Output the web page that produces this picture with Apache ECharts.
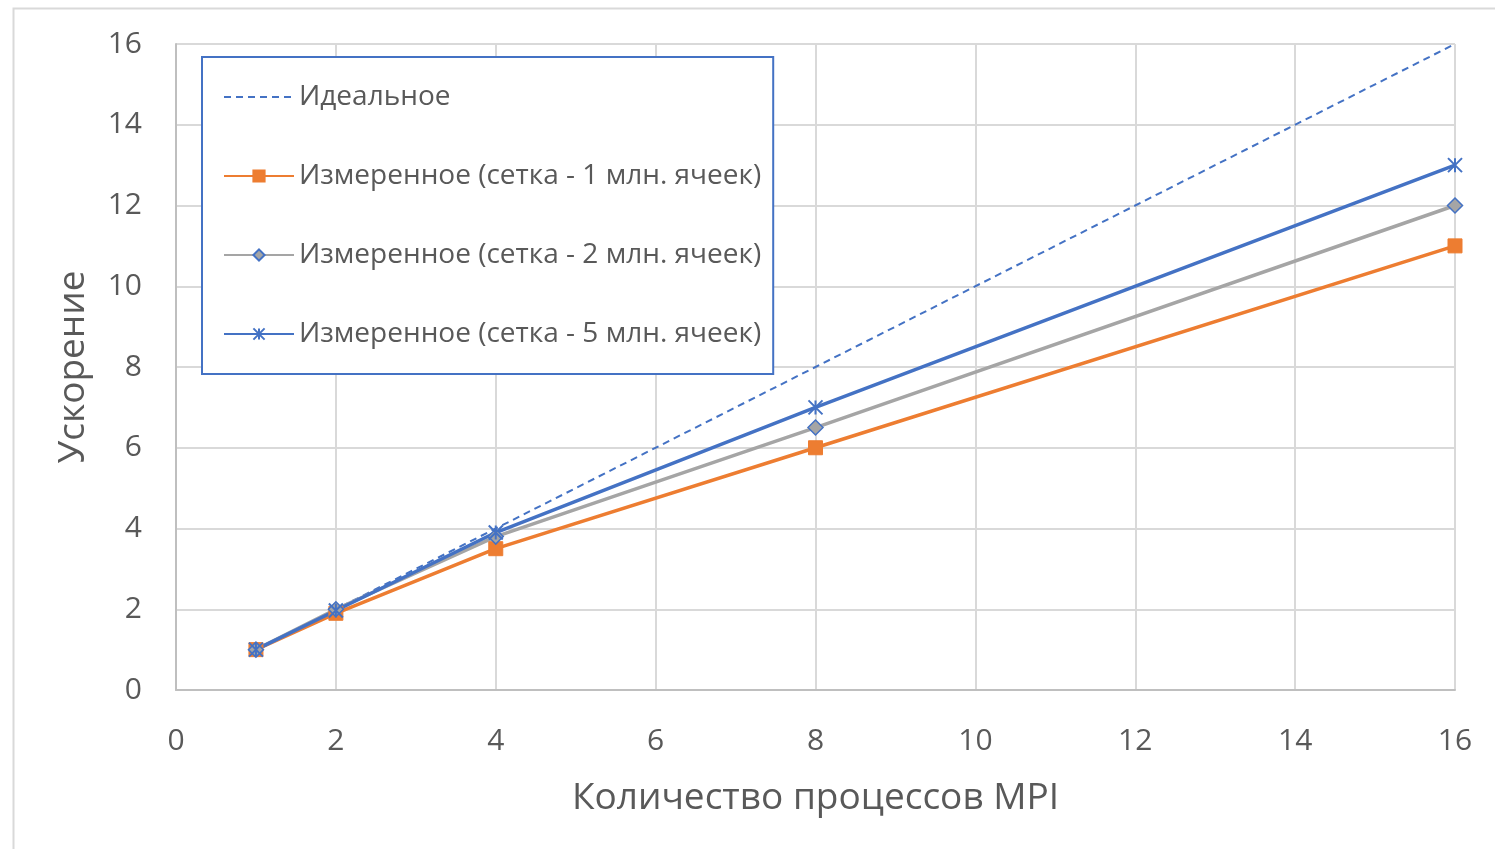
<!DOCTYPE html>
<html>
<head>
<meta charset="utf-8">
<script src="https://cdn.jsdelivr.net/npm/echarts@6/dist/echarts.min.js"></script>
<style>
html,body{margin:0;padding:0;background:#fff;}
#c{width:1495px;height:849px;}
</style>
</head>
<body>
<div id="c"></div>
<script>
// Data
const processes = [1, 2, 4, 8, 16];
const idealValues = [1, 2, 4, 8, 16];
const mesh1Values = [1, 1.9, 3.5, 6, 11];
const mesh2Values = [1, 2, 3.8, 6.5, 12];
const mesh5Values = [1, 1.97, 3.9, 7, 13];
const seriesNames = [
  'Идеальное',
  'Измеренное (сетка - 1 млн. ячеек)',
  'Измеренное (сетка - 2 млн. ячеек)',
  'Измеренное (сетка - 5 млн. ячеек)'
];
const xAxisTitle = 'Количество процессов MPI';
const yAxisTitle = 'Ускорение';

const pairs = (xs, ys) => xs.map((x, i) => [x, ys[i]]);
const FONT = '"Open Sans", "Noto Sans", sans-serif';
const TXT = '#595959';
const BLUE = '#4472C4', ORANGE = '#ED7D31', GRAY = '#A5A5A5';
const STAR = 'path://M0,0L10,10M10,0L0,10M5,0L5,10';

const chart = echarts.init(document.getElementById('c'), null, {renderer: 'canvas'});
chart.setOption({
  animation: false,
  backgroundColor: '#fff',
  textStyle: {fontFamily: FONT},
  graphic: [{
    type: 'rect', left: 11, top: 6, silent: true, z: -10,
    shape: {width: 1500, height: 900},
    style: {fill: 'none', stroke: '#d9d9d9', lineWidth: 2}
  }],
  grid: {left: 176, right: 40, top: 44, bottom: 159, containLabel: false},
  legend: {
    orient: 'vertical', left: 202, top: 57,
    padding: [26, 12, 26, 21],
    itemGap: 51, itemWidth: 70, itemHeight: 14,
    borderColor: BLUE, borderWidth: 2, backgroundColor: '#fff',
    textStyle: {fontFamily: FONT, fontSize: 28, color: TXT},
    data: [
      {name: seriesNames[0], itemStyle: {opacity: 0}},
      seriesNames[1], seriesNames[2], seriesNames[3]
    ]
  },
  xAxis: {
    type: 'value', min: 0, max: 16, interval: 2,
    name: xAxisTitle, nameLocation: 'middle', nameGap: 90,
    nameTextStyle: {fontFamily: FONT, fontSize: 37, color: TXT},
    axisLine: {show: true, lineStyle: {color: '#bfbfbf', width: 2}},
    axisTick: {show: false},
    axisLabel: {fontFamily: FONT, fontSize: 30, color: TXT, margin: 36},
    splitLine: {show: true, lineStyle: {color: '#d9d9d9', width: 2}}
  },
  yAxis: {
    type: 'value', min: 0, max: 16, interval: 2,
    name: yAxisTitle, nameLocation: 'middle', nameGap: 84, nameRotate: 90,
    nameTextStyle: {fontFamily: FONT, fontSize: 37, color: TXT},
    axisLine: {show: true, lineStyle: {color: '#bfbfbf', width: 2}},
    axisTick: {show: false},
    axisLabel: {fontFamily: FONT, fontSize: 30, color: TXT, margin: 34},
    splitLine: {show: true, lineStyle: {color: '#d9d9d9', width: 2}}
  },
  series: [
    {
      name: seriesNames[0], type: 'line', data: pairs(processes, idealValues),
      showSymbol: false, symbol: 'none',
      lineStyle: {color: BLUE, width: 2, type: [7, 5]},
      itemStyle: {color: BLUE}
    },
    {
      name: seriesNames[1], type: 'line', data: pairs(processes, mesh1Values),
      symbol: 'rect', symbolSize: 14,
      lineStyle: {color: ORANGE, width: 3.5},
      itemStyle: {color: ORANGE, borderColor: ORANGE, borderWidth: 1}
    },
    {
      name: seriesNames[2], type: 'line', data: pairs(processes, mesh2Values),
      symbol: 'diamond', symbolSize: 15,
      lineStyle: {color: GRAY, width: 3.5},
      itemStyle: {color: GRAY, borderColor: BLUE, borderWidth: 1.5}
    },
    {
      name: seriesNames[3], type: 'line', data: pairs(processes, mesh5Values),
      symbol: STAR, symbolSize: 14,
      lineStyle: {color: BLUE, width: 3.5},
      itemStyle: {color: BLUE, borderColor: BLUE, borderWidth: 2}
    }
  ]
});
</script>
</body>
</html>
